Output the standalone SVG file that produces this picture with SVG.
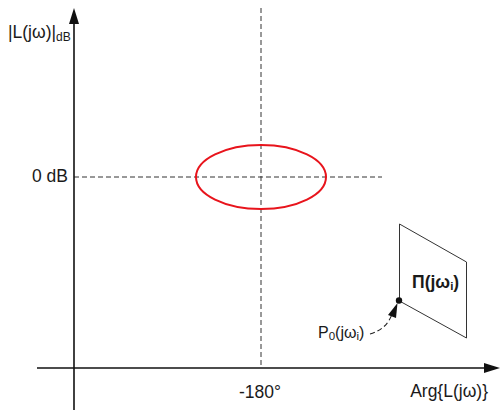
<svg xmlns="http://www.w3.org/2000/svg" width="502" height="410" viewBox="0 0 502 410">
<defs>
<style>
text{font-family:"Liberation Sans",Arial,sans-serif;fill:#1a1a1a}
.lbl{font-size:17.5px}
.axis{stroke:#111;stroke-width:1.6;fill:none}
.grid{stroke:#333;stroke-width:1;stroke-dasharray:5 3;fill:none}
</style>
</defs>
<rect width="502" height="410" fill="#fff"/>
<g id="connectors">
<line class="grid" x1="261" y1="8" x2="261" y2="368"/>
<line class="grid" x1="74" y1="177" x2="382" y2="177"/>
<line class="axis" x1="74" y1="410" x2="74" y2="22"/>
<path d="M74,8 L69,24 L79,24 Z" fill="#111"/>
<line class="axis" x1="37" y1="368" x2="488" y2="368"/>
<path d="M500,368 L484,363 L484,373 Z" fill="#111"/>
<path d="M370,334 Q387,329 392,314" fill="none" stroke="#222" stroke-width="1.1" stroke-dasharray="5 3"/>
<path d="M397.5,303 L388,315 L396,318 Z" fill="#111"/>
</g>
<g id="ellipse">
<ellipse cx="261" cy="177" rx="65" ry="32" fill="none" stroke="#e8141c" stroke-width="2"/>
</g>
<g id="region">
<polygon points="399.5,224 466.5,262 466.5,338 399.5,301" fill="none" stroke="#333" stroke-width="1"/>
<circle cx="399" cy="300.5" r="3.2" fill="#111"/>
<text x="412" y="288" font-size="17.5" font-weight="bold">Π(jω<tspan font-size="11.5" dy="2">i</tspan><tspan dy="-2">)</tspan></text>
</g>
<g id="p0">
<text x="318" y="338" font-size="16">P<tspan font-size="11.5" dy="2">0</tspan><tspan dy="-2">(jω</tspan><tspan font-size="11.5" dy="2">i</tspan><tspan dy="-2">)</tspan></text>
</g>
<g id="labels">
<text class="lbl" x="8" y="38">|L(jω)|<tspan font-size="12" dy="3">dB</tspan></text>
<text class="lbl" x="68" y="182" text-anchor="end">0 dB</text>
<text class="lbl" x="260" y="398" text-anchor="middle">-180°</text>
<text class="lbl" x="488" y="397" text-anchor="end">Arg{L(jω)}</text>
</g>
</svg>
